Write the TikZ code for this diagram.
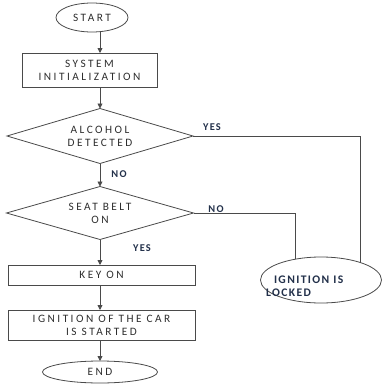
\documentclass[tikz,border=0pt]{standalone}
\usepackage{fontspec}
\setmainfont{Carlito}
\newfontfamily\boxfont[LetterSpace=22]{Carlito}
\newfontfamily\lblfont[LetterSpace=12]{Carlito Bold}
\usetikzlibrary{shapes.geometric,arrows.meta}
\definecolor{linec}{HTML}{4A4A4A}
\definecolor{txtc}{HTML}{2E2E2E}
\definecolor{lblc}{HTML}{22304A}
\begin{document}
\begin{tikzpicture}[x=1pt,y=-1pt,
  every node/.style={inner sep=0pt,outer sep=0pt},
  base/.style={draw=linec,line width=0.8pt,text=txtc,font=\boxfont\fontsize{11.3}{13}\selectfont,align=center},
  oval/.style={base,ellipse},
  boxx/.style={base,rectangle},
  dec/.style={base,diamond},
  lbl/.style={text=lblc,font=\lblfont\fontsize{10.4}{12}\selectfont},
  flow/.style={draw=linec,line width=0.8pt,-{Triangle[length=5pt,width=5pt]}},
  link/.style={draw=linec,line width=0.8pt}]
\useasboundingbox (0,0) rectangle (383,386);
\fill[white] (0,0) rectangle (383,386);
\node[oval,minimum width=72pt,minimum height=29pt] (start) at (92,17.5) {START};
\node[boxx,minimum width=135pt,minimum height=34pt] (init) at (89.5,70) {SYSTEM\\INITIALIZATION};
\node[dec,shape aspect=3.4,minimum width=186pt,minimum height=55pt] (alc) at (100,136) {ALCOHOL\\DETECTED};
\node[dec,shape aspect=3.5,minimum width=187pt,minimum height=53pt] (belt) at (100,213) {SEAT BELT\\ON};
\node[boxx,minimum width=187pt,minimum height=20pt] (key) at (101.5,275) {KEY ON};
\node[boxx,minimum width=187pt,minimum height=30pt] (ign) at (101.5,325) {IGNITION OF THE CAR\\IS STARTED};
\node[oval,minimum width=115pt,minimum height=22pt] (end) at (100,372) {END};
\node[draw=linec,line width=0.8pt,ellipse,minimum width=121pt,minimum height=46pt] (lock) at (321,280) {};
\node[lbl,font=\lblfont\fontsize{11.6}{12.5}\selectfont,align=left,anchor=west] (locktxt) at (266,286) {\hspace*{8pt}IGNITION IS\\LOCKED};
\node[lbl] (no1) at (119,174) {NO};
\node[lbl] (yes1) at (142,248) {YES};
\node[lbl] (yes2) at (212,127) {YES};
\node[lbl] (no2) at (216,209) {NO};
\coordinate (c1) at (360,136);
\coordinate (c2) at (295,213);
\draw[flow] (start.south -| 100,0) -- (100,53);
\draw[flow] (init.south -| 100,0) -- (alc.north);
\draw[flow] (alc.south) -- (belt.north);
\draw[flow] (belt.south) -- (key.north -| 100,0);
\draw[flow] (key.south -| 100,0) -- (ign.north -| 100,0);
\draw[flow] (ign.south -| 100,0) -- (end.north);
\draw[link] (alc.east) -- (c1) -- (c1 |- lock.24.3);
\draw[link] (belt.east) -- (c2) -- (c2 |- lock.141.1);
\end{tikzpicture}
\end{document}
